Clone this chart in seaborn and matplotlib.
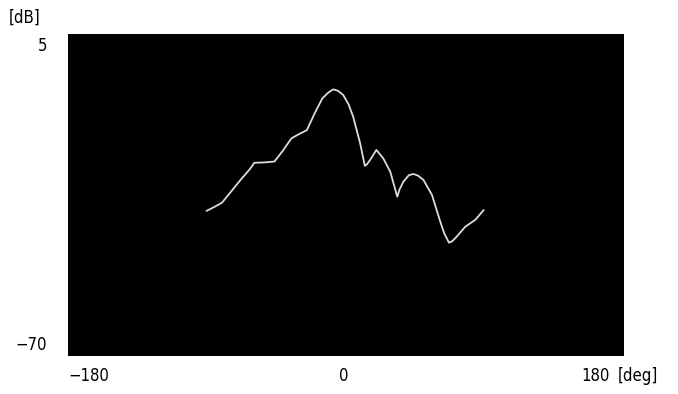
import matplotlib
matplotlib.use("Agg")
import matplotlib.pyplot as plt
import seaborn as sns
import pandas as pd

angle_deg = [-90, -85, -80, -75, -68, -62, -59, -52, -46, -41, -35, -30, -25, -20,
             -15, -11, -8, -5, -1.5, 2, 5, 9.5, 12.5, 14, 16, 20, 24.5, 29,
             33.5, 35, 37.5, 41, 44, 47, 50.5, 56, 61, 64, 67, 69, 72, 77.5, 84, 89.5]
level_db = [-36.2, -35.3, -34.3, -32.1, -29.0, -26.5, -25.0, -24.9, -24.7, -22.4,
            -19.3, -18.3, -17.4, -13.5, -10.0, -8.6, -7.9, -8.2, -9.2, -11.4,
            -14.3, -20.5, -25.7, -25.3, -24.3, -22.0, -24.0, -27.1, -32.9, -31.2,
            -29.4, -27.9, -27.6, -28.0, -29.0, -32.5, -38.3, -41.5, -43.6, -43.3,
            -42.2, -39.9, -38.3, -36.0]
x_ticks = [-180, 0, 180]
y_ticks = [5, -70]

df = pd.DataFrame({"deg": angle_deg, "dB": level_db})

sns.set_style("white")
plt.rcParams['font.family'] = ['DejaVu Sans']
plt.rcParams['text.color'] = 'black'

fig = plt.figure(figsize=(6.78, 3.94), dpi=100)
ax = fig.add_axes([67.5/678, 38/394, 556/678, 322/394])
ax.set_facecolor("black")
sns.lineplot(data=df, x="deg", y="dB", ax=ax, color="#dcdcdc", linewidth=1.3,
             sort=False, solid_joinstyle="round")
ax.set_xlim(x_ticks[0], x_ticks[-1])
ax.set_ylim(y_ticks[-1], y_ticks[0])
ax.set_xticks([])
ax.set_yticks([])
ax.set_xlabel("")
ax.set_ylabel("")
for s in ax.spines.values():
    s.set_visible(False)

fs = 12
kw = dict(fontsize=fs, color="black", fontstretch="condensed")
# y labels
fig.text(47/678, 1 - 46/394, str(y_ticks[0]), ha="right", va="center", **kw)
fig.text(47/678, 1 - 345/394, "−70", ha="right", va="center", **kw)
fig.text(40/678, 1 - 18/394, "[dB]", ha="right", va="center", **kw)
# x labels
fig.text(68/678, 1 - 376/394, "−180", ha="left", va="center", **kw)
fig.text(344/678, 1 - 376/394, "0", ha="center", va="center", **kw)
fig.text(610/678, 1 - 376/394, "180", ha="right", va="center", **kw)
fig.text(618/678, 1 - 376/394, "[deg]", ha="left", va="center", **kw)

fig.savefig("out.png", dpi=100)
